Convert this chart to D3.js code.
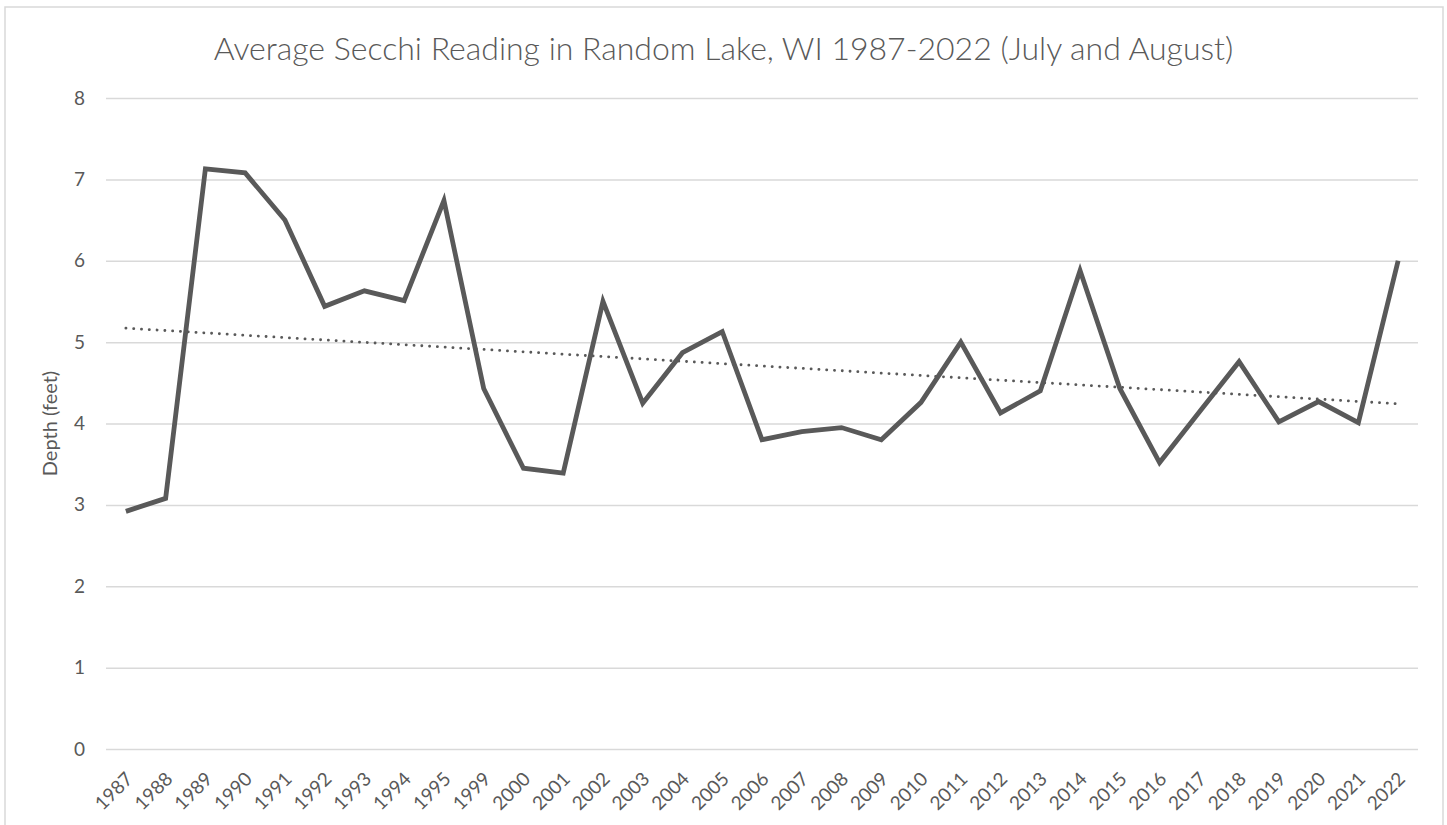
<!DOCTYPE html>
<html>
<head>
<meta charset="utf-8" />
<style>
  body { margin: 0; background: #fff; }
  svg { display: block; font-family: Lato, "Open Sans", sans-serif; }
</style>
</head>
<body>
<svg id="chart"></svg>
<script src="https://cdn.jsdelivr.net/npm/d3@7"></script>
<script>
  // Years on the category axis (1996-1998 are not in the record)
  const years = [
    "1987", "1988", "1989", "1990", "1991", "1992", "1993", "1994", "1995",
    "1999", "2000", "2001", "2002", "2003", "2004", "2005", "2006", "2007",
    "2008", "2009", "2010", "2011", "2012", "2013", "2014", "2015", "2016",
    "2017", "2018", "2019", "2020", "2021", "2022"
  ];

  // Average secchi depth (feet), July and August
  const depth = [
    2.92, 3.08, 7.13, 7.08, 6.50, 5.44, 5.63, 5.51, 6.74,
    4.43, 3.45, 3.39, 5.50, 4.25, 4.87, 5.13, 3.80, 3.90,
    3.95, 3.80, 4.26, 5.00, 4.13, 4.40, 5.88, 4.43, 3.52,
    4.14, 4.76, 4.02, 4.27, 4.01, 6.00
  ];

  const yTicks = [0, 1, 2, 3, 4, 5, 6, 7, 8];

  const title = "Average Secchi Reading in Random Lake, WI 1987-2022 (July and August)";
  const yLabel = "Depth (feet)";

  const width = 1447;
  const height = 825;
  const marginTop = 98;
  const marginRight = 29;
  const marginBottom = 76;
  const marginLeft = 106;
  const grey = "#595959";

  const data = years.map((y, i) => ({ year: y, value: depth[i] }));

  const svg = d3.select("#chart")
    .attr("width", width)
    .attr("height", height)
    .attr("viewBox", [0, 0, width, height]);

  // chart area border
  svg.append("rect")
    .attr("x", 5).attr("y", 7)
    .attr("width", 1438).attr("height", 830)
    .attr("fill", "#fff")
    .attr("stroke", "#d9d9d9")
    .attr("stroke-width", 1.5);

  const x = d3.scaleBand()
    .domain(years)
    .range([marginLeft, width - marginRight]);

  const y = d3.scaleLinear()
    .domain([0, 8])
    .range([height - marginBottom, marginTop]);

  const cx = d => x(d) + x.bandwidth() / 2;

  // gridlines + y labels
  const yAxis = svg.append("g")
    .attr("transform", `translate(${marginLeft},0)`)
    .call(d3.axisLeft(y).tickValues(yTicks).tickSize(0).tickPadding(21))
    .call(g => g.select(".domain").remove());
  yAxis.selectAll(".tick line")
    .attr("x2", width - marginLeft - marginRight)
    .attr("stroke", "#d9d9d9")
    .attr("stroke-width", 1.5);
  yAxis.selectAll(".tick text")
    .attr("fill", grey)
    .attr("font-size", 19)
    .attr("font-family", "Lato, sans-serif");

  // x labels, rotated
  const xAxis = svg.append("g")
    .attr("transform", `translate(0,${height - marginBottom})`)
    .call(d3.axisBottom(x).tickSize(0))
    .call(g => g.select(".domain").remove());
  xAxis.selectAll(".tick text")
    .attr("fill", grey)
    .attr("font-size", 19)
    .attr("font-family", "Lato, sans-serif")
    .attr("text-anchor", "end")
    .attr("dy", 0)
    .attr("transform", "translate(6,29) rotate(-45)");

  // linear trendline (least squares on category index)
  const n = depth.length;
  const xs = d3.range(n);
  const mx = d3.mean(xs), my = d3.mean(depth);
  const slope = d3.sum(xs, i => (i - mx) * (depth[i] - my)) / d3.sum(xs, i => (i - mx) ** 2);
  const icpt = my - slope * mx;
  const trend = [
    { year: years[0], value: icpt },
    { year: years[n - 1], value: icpt + slope * (n - 1) }
  ];

  const line = d3.line()
    .x(d => cx(d.year))
    .y(d => y(d.value));

  svg.append("path")
    .datum(trend)
    .attr("d", line)
    .attr("fill", "none")
    .attr("stroke", grey)
    .attr("stroke-width", 2.8)
    .attr("stroke-linecap", "round")
    .attr("stroke-dasharray", "0.1 7.7");

  svg.append("path")
    .datum(data)
    .attr("d", line)
    .attr("fill", "none")
    .attr("stroke", grey)
    .attr("stroke-width", 4.8)
    .attr("stroke-linejoin", "miter")
    .attr("stroke-linecap", "butt");

  // title
  svg.append("text")
    .attr("x", (215 + 1232) / 2)
    .attr("y", 60)
    .attr("text-anchor", "middle")
    .attr("fill", grey)
    .attr("font-size", 32)
    .attr("font-weight", 300)
    .text(title);

  // y axis title
  svg.append("text")
    .attr("transform", `translate(57,${(marginTop + height - marginBottom) / 2}) rotate(-90)`)
    .attr("text-anchor", "middle")
    .attr("fill", grey)
    .attr("font-size", 20)
    .text(yLabel);
</script>
</body>
</html>
